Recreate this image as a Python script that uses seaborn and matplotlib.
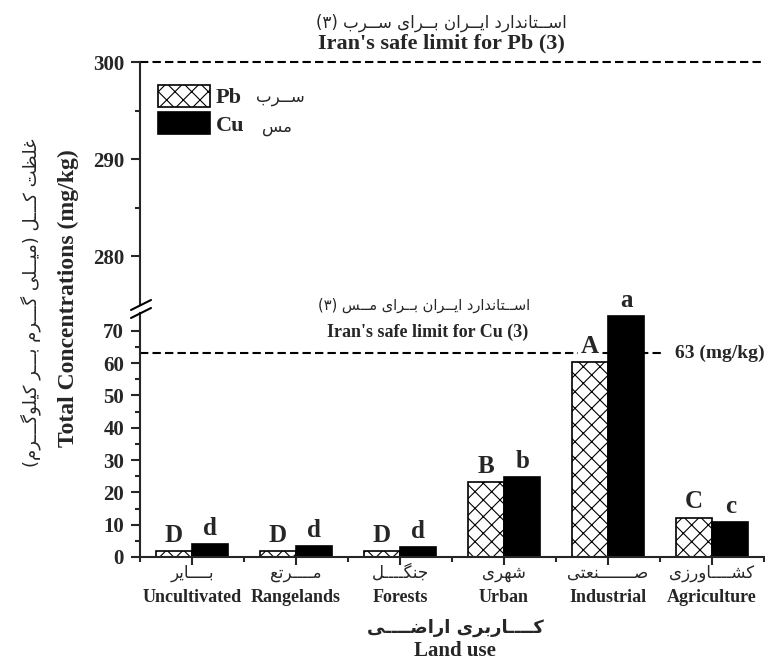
import numpy as np
import pandas as pd
import matplotlib
matplotlib.use('Agg')
import matplotlib.pyplot as plt
from matplotlib.lines import Line2D
import seaborn as sns

# data
land_en = ['Uncultivated', 'Rangelands', 'Forests', 'Urban', 'Industrial', 'Agriculture']
land_fa = ['بــــایر', 'مــــرتع', 'جنگــــل', 'شهری', 'صـــــــنعتی', 'کشــــاورزی']
pb = [1.9, 1.9, 1.8, 23.1, 60.3, 12.2]
cu = [3.9, 3.3, 3.1, 24.7, 74.5, 10.9]
pb_letters = ['D', 'D', 'D', 'B', 'A', 'C']
cu_letters = ['d', 'd', 'd', 'b', 'a', 'c']
PB_LIMIT = 300
CU_LIMIT = 63

# matplotlib has no arabic shaping, so map letters to presentation forms
_F = {
    '\u0627': (0xFE8D, 0xFE8E),
    '\u0628': (0xFE8F, 0xFE90, 0xFE91, 0xFE92),
    '\u067E': (0xFB56, 0xFB57, 0xFB58, 0xFB59),
    '\u062A': (0xFE95, 0xFE96, 0xFE97, 0xFE98),
    '\u062C': (0xFE9D, 0xFE9E, 0xFE9F, 0xFEA0),
    '\u062F': (0xFEA9, 0xFEAA),
    '\u0631': (0xFEAD, 0xFEAE),
    '\u0632': (0xFEAF, 0xFEB0),
    '\u0633': (0xFEB1, 0xFEB2, 0xFEB3, 0xFEB4),
    '\u0634': (0xFEB5, 0xFEB6, 0xFEB7, 0xFEB8),
    '\u0635': (0xFEB9, 0xFEBA, 0xFEBB, 0xFEBC),
    '\u0636': (0xFEBD, 0xFEBE, 0xFEBF, 0xFEC0),
    '\u0638': (0xFEC5, 0xFEC6, 0xFEC7, 0xFEC8),
    '\u0639': (0xFEC9, 0xFECA, 0xFECB, 0xFECC),
    '\u063A': (0xFECD, 0xFECE, 0xFECF, 0xFED0),
    '\u0644': (0xFEDD, 0xFEDE, 0xFEDF, 0xFEE0),
    '\u0645': (0xFEE1, 0xFEE2, 0xFEE3, 0xFEE4),
    '\u0646': (0xFEE5, 0xFEE6, 0xFEE7, 0xFEE8),
    '\u0647': (0xFEE9, 0xFEEA, 0xFEEB, 0xFEEC),
    '\u0648': (0xFEED, 0xFEEE),
    '\u06A9': (0xFB8E, 0xFB8F, 0xFB90, 0xFB91),
    '\u06AF': (0xFB92, 0xFB93, 0xFB94, 0xFB95),
    '\u06CC': (0xFBFC, 0xFBFD, 0xFBFE, 0xFBFF),
    '\u0640': (0x0640, 0x0640, 0x0640, 0x0640),
}


def fa(s):
    out = []
    for i, ch in enumerate(s):
        if ch not in _F:
            out.append(ch)
            continue
        f = _F[ch]
        prev = s[i - 1] if i > 0 else ''
        nxt = s[i + 1] if i < len(s) - 1 else ''
        jp = prev in _F and len(_F[prev]) == 4
        jn = len(f) == 4 and nxt in _F
        if jp and jn:
            out.append(chr(f[3]))
        elif jp:
            out.append(chr(f[1]))
        elif jn:
            out.append(chr(f[2]))
        else:
            out.append(chr(f[0]))
    vis = ''.join(out)[::-1]
    return vis.translate(str.maketrans('()', ')('))


sns.set_style('ticks')
plt.rcParams['font.family'] = ['Liberation Serif', 'DejaVu Sans']
plt.rcParams['hatch.linewidth'] = 0.8
plt.rcParams['axes.linewidth'] = 1.5
FA = ['DejaVu Sans']

W, H = 765, 670
fig = plt.figure(figsize=(7.65, 6.7), dpi=100)


def box(x0, y0, x1, y1):
    return [x0 / W, 1 - y1 / H, (x1 - x0) / W, (y1 - y0) / H]


ax_top = fig.add_axes(box(140, 62, 764, 305))
ax = fig.add_axes(box(140, 313, 764, 557))

df = pd.DataFrame({'land': land_en * 2,
                   'metal': ['Pb'] * len(pb) + ['Cu'] * len(cu),
                   'conc': pb + cu})
sns.barplot(data=df, x='land', y='conc', hue='metal', order=land_en,
            hue_order=['Pb', 'Cu'], palette=['white', 'black'], saturation=1,
            edgecolor='black', linewidth=1.2, width=0.7, errorbar=None,
            legend=False, ax=ax)
for bar in ax.containers[0]:
    bar.set_hatch('xx')

for cont, letters in zip(ax.containers, [pb_letters, cu_letters]):
    for bar, lt in zip(cont, letters):
        ax.annotate(lt, (bar.get_x() + bar.get_width() / 2, bar.get_height()),
                    xytext=(0, 3), textcoords='offset points', ha='center',
                    va='bottom', fontsize=18, fontweight='bold',
                    annotation_clip=False,
                    bbox=dict(facecolor='white', edgecolor='none', pad=2))

dash = (0, (4, 2))
ax.hlines(CU_LIMIT, -0.5, 4.55, colors='black', linestyles=dash,
          linewidth=1.5, zorder=0.5)
ax.text(4.64, CU_LIMIT, '63 (mg/kg)', ha='left', va='center',
        fontsize=14, fontweight='bold')
ax_top.axhline(PB_LIMIT, color='black', linestyle=dash, linewidth=1.5,
               clip_on=False)

# axes / ticks
ax.set_xlim(-0.5, 5.5)
ax.set_ylim(0, 75.5)
ax.set_xticks(range(len(land_en)))
ax.set_xticks(np.arange(-0.5, len(land_en) + 0.5, 1), minor=True)
ax.set_yticks(range(0, 80, 10))
ax.set_yticks(range(5, 70, 10), minor=True)
ax.set_xlabel('')
ax.set_ylabel('')
ax.tick_params(axis='x', which='major', length=6, width=1.5, labelbottom=False)
ax.tick_params(axis='x', which='minor', length=3.5, width=1.5)
sns.despine(ax=ax)

ax_top.set_xlim(-0.5, 5.5)
ax_top.set_ylim(275, 300)
ax_top.set_xticks([])
ax_top.set_yticks([280, 290, 300])
ax_top.set_yticks([285, 295], minor=True)
sns.despine(ax=ax_top, bottom=True)

for a in (ax, ax_top):
    a.tick_params(axis='y', which='major', length=6.5, width=1.5,
                  labelsize=15, pad=5)
    a.tick_params(axis='y', which='minor', length=3.5, width=1.5)
    plt.setp(a.get_yticklabels(), fontweight='bold')

# category labels, persian above english
for i in range(len(land_en)):
    ax.annotate(fa(land_fa[i]), xy=(i, 0), xycoords=('data', 'axes fraction'),
                xytext=(0, -11.5), textcoords='offset points', ha='center',
                va='center', fontsize=12, family=FA)
    ax.annotate(land_en[i], xy=(i, 0), xycoords=('data', 'axes fraction'),
                xytext=(0, -29.5), textcoords='offset points', ha='center',
                va='center', fontsize=13, fontweight='bold')

# legend
handles = [ax.containers[0][0], ax.containers[1][0]]
ax_top.legend(handles, ['Pb', 'Cu'], loc='upper left',
              bbox_to_anchor=(158 / W, 1 - 85 / H), bbox_transform=fig.transFigure,
              frameon=False, prop={'weight': 'bold', 'size': 16},
              handlelength=2.34, handleheight=1.13, labelspacing=0.18,
              handletextpad=0.25, borderpad=0, borderaxespad=0)
fig.text(280 / W, 1 - 97.5 / H, fa('ســرب'), ha='center', va='center',
         fontsize=12, family=FA)
fig.text(277 / W, 1 - 126.5 / H, fa('مس'), ha='center', va='center',
         fontsize=12, family=FA)

# limit titles
fig.text(441 / W, 1 - 23 / H, fa('اســتاندارد ایــران بــرای ســرب (۳)'),
         ha='center', va='center', fontsize=12, family=FA)
fig.text(441 / W, 1 - 43 / H, "Iran's safe limit for Pb (3)", ha='center',
         va='center', fontsize=16, fontweight='bold')
fig.text(424 / W, 1 - 305 / H, fa('اســتاندارد ایــران بــرای مــس (۳)'),
         ha='center', va='center', fontsize=10.5, family=FA)
fig.text(428 / W, 1 - 332 / H, "Iran's safe limit for Cu (3)", ha='center',
         va='center', fontsize=13, fontweight='bold')

# axis titles
fig.text(455 / W, 1 - 628 / H, fa('کــــاربری اراضــــی'), ha='center',
         va='center', fontsize=13, fontweight='bold', family=FA)
fig.text(455 / W, 1 - 651 / H, 'Land use', ha='center', va='center',
         fontsize=15, fontweight='bold')
fig.text(68 / W, 1 - 298 / H, 'Total Concentrations (mg/kg)', rotation=90,
         ha='center', va='center', fontsize=17, fontweight='bold')
fig.text(31 / W, 1 - 303 / H, fa('غلظت کـــل (میــلی گـــرم بـــر کیلوگـــرم)'),
         rotation=90, ha='center', va='center', fontsize=13, family=FA)

# axis break marks
for x0, y0, x1, y1 in [(131, 318, 151, 308), (131, 310, 151, 300)]:
    fig.add_artist(Line2D([x0 / W, x1 / W], [1 - y0 / H, 1 - y1 / H],
                          color='black', lw=1.5, transform=fig.transFigure))

fig.savefig('out.png', dpi=100)
